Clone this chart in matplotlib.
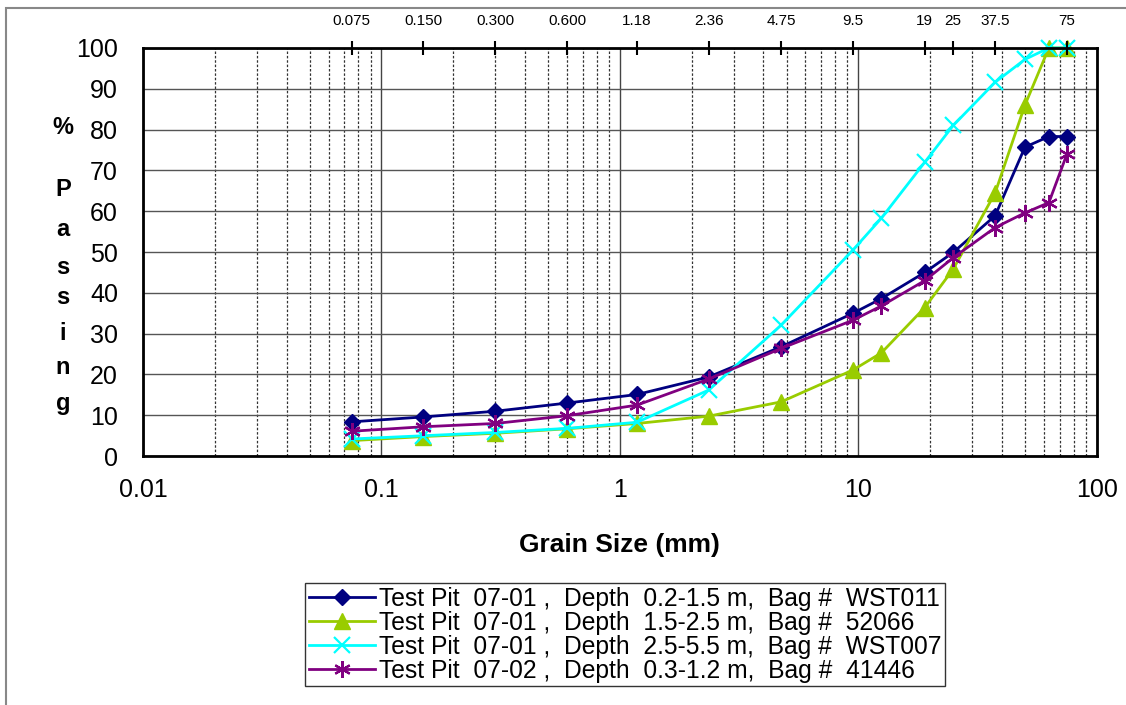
import matplotlib
matplotlib.use("Agg")
import matplotlib.pyplot as plt
from matplotlib.ticker import FixedLocator, NullFormatter, LogLocator, NullLocator
from matplotlib.patches import Rectangle

plt.rcParams['font.family'] = ['Liberation Sans', 'DejaVu Sans']

sizes = [0.075, 0.15, 0.3, 0.6, 1.18, 2.36, 4.75, 9.5, 12.5, 19, 25, 37.5, 50, 63, 75]
s1 = [8.4, 9.6, 11.0, 13.0, 15.1, 19.4, 26.8, 35.0, 38.6, 45.0, 49.9, 58.9, 75.7, 78.3, 78.3]
s2 = [3.8, 4.8, 5.6, 6.7, 8.0, 9.8, 13.3, 21.1, 25.3, 36.4, 45.8, 64.5, 86.0, 100, 100]
s3 = [4.2, 5.0, 5.8, 6.8, 8.3, 16.2, 32.1, 50.5, 58.3, 72.0, 81.0, 91.6, 97.2, 100, 100]
s4 = [6.1, 7.2, 8.0, 9.9, 12.5, 18.9, 26.4, 33.3, 36.8, 43.0, 48.6, 56.0, 59.6, 62.1, 74.0]
labels = [
    "Test Pit  07-01 ,  Depth  0.2-1.5 m,  Bag #  WST011",
    "Test Pit  07-01 ,  Depth  1.5-2.5 m,  Bag #  52066",
    "Test Pit  07-01 ,  Depth  2.5-5.5 m,  Bag #  WST007",
    "Test Pit  07-02 ,  Depth  0.3-1.2 m,  Bag #  41446",
]
top_ticks = [0.075, 0.15, 0.3, 0.6, 1.18, 2.36, 4.75, 9.5, 19, 25, 37.5, 75]
top_labels = ["0.075", "0.150", "0.300", "0.600", "1.18", "2.36", "4.75", "9.5", "19", "25", "37.5", "75"]
bottom_ticks = [0.01, 0.1, 1, 10, 100]
bottom_labels = ["0.01", "0.1", "1", "10", "100"]
yticks = list(range(0, 101, 10))

fig = plt.figure(figsize=(11.26, 7.05), dpi=100)
ax = fig.add_axes([0.127, 0.353, 0.847, 0.579])

ax.plot(sizes, s1, color='#000080', marker='D', markersize=8, lw=2, label=labels[0])
ax.plot(sizes, s2, color='#99CC00', marker='^', markersize=11, lw=2, label=labels[1])
ax.plot(sizes, s3, color='#00FFFF', marker='x', markersize=11, mew=1.6, lw=2, label=labels[2])
ax.plot(sizes, s4, color='#800080', marker=(6, 2, 0), markersize=12, mew=1.6, lw=2, label=labels[3])

ax.set_xscale('log')
ax.set_xlim(0.01, 100)
ax.set_ylim(0, 100)
ax.xaxis.set_major_locator(FixedLocator(bottom_ticks))
ax.set_xticklabels(bottom_labels, fontsize=18)
ax.xaxis.set_minor_locator(LogLocator(base=10, subs=range(2, 10)))
ax.xaxis.set_minor_formatter(NullFormatter())
ax.set_yticks(yticks)
ax.set_yticklabels([str(v) for v in yticks], fontsize=18)
ax.tick_params(axis='y', which='both', length=0, pad=18)
ax.tick_params(axis='x', which='both', length=0, pad=16)
ax.grid(True, which='major', axis='x', color='#444444', lw=1, ls='-')
ax.grid(True, which='minor', axis='x', color='#333333', lw=0.9, ls=(0, (2, 1.5)))
ax.grid(True, which='major', axis='y', color='#555555', lw=1, ls='-')
ax.set_axisbelow(True)
for sp in ax.spines.values():
    sp.set_linewidth(2)
    sp.set_color('black')
    sp.set_zorder(5)
for ln in ax.lines:
    ln.set_clip_on(False)

ax.set_xlabel("Grain Size (mm)", fontsize=19, fontweight='bold', labelpad=22)

top = ax.twiny()
top.set_xscale('log')
top.set_xlim(0.01, 100)
top.xaxis.set_major_locator(FixedLocator(top_ticks))
top.set_xticklabels(top_labels, fontsize=11)
top.xaxis.set_minor_locator(NullLocator())
top.tick_params(axis='x', which='major', direction='inout', length=10, width=1.5, pad=9)
for sp in top.spines.values():
    sp.set_visible(False)

ylab = ["%", "P", "a", "s", "s", "i", "n", "g"]
ypos = [128, 190, 229, 268, 298, 333, 367, 403]
for ch, yp in zip(ylab, ypos):
    fig.text(63 / 1126, 1 - yp / 705, ch, fontsize=17, fontweight='bold', ha='center', va='center')

leg = fig.legend(loc='upper left', bbox_to_anchor=(305 / 1126, 1 - 583 / 705), fontsize=17.7,
                 frameon=True, fancybox=False, edgecolor='black', borderpad=0.15,
                 labelspacing=0.0, handlelength=2.7, handletextpad=0.15, borderaxespad=0)
leg.get_frame().set_linewidth(1)

fig.patches.append(Rectangle((6 / 1126, -0.1), 1.5, 1.1 - 8 / 705, transform=fig.transFigure,
                             fill=False, edgecolor='#888888', lw=1.5))

fig.savefig("out.png", dpi=100)
